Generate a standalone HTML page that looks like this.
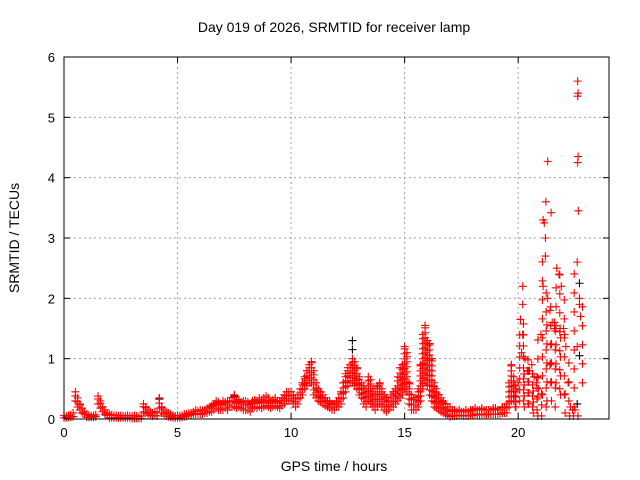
<!DOCTYPE html>
<html><head><meta charset="utf-8"><style>
body{margin:0;background:#fff}
svg{display:block;font-family:"Liberation Sans",sans-serif}
</style></head><body>
<svg id="c" width="640" height="480">
<rect width="640" height="480" fill="#fff"/>
<text x="334" y="32" text-anchor="middle" font-size="14">Day 019 of 2026, SRMTID for receiver lamp</text>
<text x="334" y="471" text-anchor="middle" font-size="14">GPS time / hours</text>
<text transform="translate(19,238) rotate(-90)" text-anchor="middle" font-size="14">SRMTID / TECUs</text>
<g id="grid"></g>
<g id="ticks"></g>
<g id="black"></g>
<g id="red"></g>
<rect x="64" y="57" width="545" height="362" fill="none" stroke="#000" stroke-width="1"/>
</svg>
<script>
const xTicks=[0,5,10,15,20];
const yTicks=[0,1,2,3,4,5,6];
const tStart=0, tStep=0.1;
const hi=[.06,.05,.06,.07,.1, .45,.35,.25,.18,.12, .08,.06,.05,.06,.07, .38,.3,.2,.15,.1,
.08,.07,.06,.06,.05,.06,.05,.05,.06,.05, .05,.06,.05,.04,.05, .25,.2,.15,.12,.1, .12,.1,.35,.2,.15, .12,.1,.08,.06,.05,
.06,.05,.06,.08,.08,.1,.1,.12,.15,.13, .15,.14,.15,.18,.2,.22,.25,.3,.28,.25,
.3,.28,.3,.3,.35,.4,.3,.32,.28,.3, .3,.28,.25,.3,.32,.3,.35,.32,.35,.38,
.35,.3,.32,.35,.3,.3,.35,.4,.45,.45, .45,.4,.35,.4,.5,.6,.7,.8,.9,.95,
.8,.6,.5,.45,.4,.35,.3,.3,.25,.25, .3,.35,.45,.6,.75,.85,.9,1.0,.95,.85,
.7,.6,.55,.5,.7,.65,.5,.45,.55,.6, .5,.4,.35,.3,.4,.45,.5,.7,.85,.9,
1.2,1.1,.6,.4,.35,.35,.5,.9,1.4,1.55, 1.3,1.25,1.0,.6,.5,.4,.35,.3,.25,.2,
.2,.15,.15,.12,.15,.12,.12,.15,.12,.15, .15,.18,.15,.15,.18,.15,.15,.15,.15,.18,
.18,.15,.15,.2,.2,.25,.6,.9,.7,.5, .6,1.65,1.4,1.0,.8,.8,.9,.7,.6,.5,
1.4,2.2,2.7,2.0,1.8,1.6,1.5,2.5,2.4,2.2, 1.5,1.2,.6,.2,.15,.15,2.6,2.0];
const lo=[.02,.02,.03,.03,.04, .3,.2,.15,.1,.08, .03,.03,.03,.03,.04, .25,.18,.12,.08,.06,
.02,.02,.02,.02,.02,.02,.02,.02,.02,.02, .01,.01,.01,.01,.01, .12,.1,.08,.06,.05, .06,.05,.18,.1,.08, .05,.04,.03,.02,.02,
.02,.02,.03,.04,.05,.06,.07,.08,.08,.09, .08,.08,.1,.1,.12,.12,.15,.18,.15,.15,
.15,.18,.15,.2,.2,.2,.18,.2,.18,.15, .15,.15,.12,.18,.2,.18,.2,.18,.2,.22,
.2,.18,.2,.22,.2,.18,.22,.25,.3,.3, .3,.25,.2,.25,.35,.4,.5,.55,.6,.6,
.4,.35,.3,.28,.25,.22,.2,.18,.15,.15, .2,.2,.25,.35,.45,.55,.6,.6,.55,.5,
.4,.35,.25,.2,.3,.25,.2,.15,.2,.25, .2,.15,.12,.15,.2,.2,.25,.3,.35,.4,
.5,.45,.25,.15,.15,.15,.2,.3,.5,.6, .55,.4,.3,.2,.18,.15,.12,.1,.08,.06,
.04,.05,.05,.05,.06,.06,.05,.06,.05,.06, .06,.08,.07,.07,.08,.08,.07,.08,.08,.08,
.08,.08,.08,.1,.1,.1,.2,.3,.3,.2, .2,.3,.3,.25,.2,.2,.25,.15,.1,.05,
.05,.2,.4,.6,.3,.2,.3,.5,.6,.4, .4,.3,.1,.05,.05,.05,.2,.6];
const outT=[22.62,22.62,22.64,22.64,22.62,22.65,21.3,21.22,21.45,21.2,21.15,20.2,20.2,21.1,21.6,21.85,22.05,22.7,22.75,22.6,21.4,20.15];
const outV=[5.6,5.35,5.4,4.35,4.25,3.45,4.27,3.6,3.42,3.0,3.25,2.2,1.9,3.3,1.6,1.5,1.4,1.9,1.7,1.2,0.9,1.1];
const blkT=[12.7,12.7,4.2,7.5,22.7,22.7,22.6];
const blkV=[1.3,1.15,0.33,0.38,2.25,1.05,0.25];
const X0=64,X1=609,Y0=419,Y1=57,XMAX=24,YMAX=6;
const sx=t=>X0+(X1-X0)*t/XMAX, sy=v=>Y0-(Y0-Y1)*v/YMAX;
const NS="http://www.w3.org/2000/svg";
function mk(tag,attrs,parent){const e=document.createElementNS(NS,tag);for(const k in attrs)e.setAttribute(k,attrs[k]);parent.appendChild(e);return e;}
const grid=document.getElementById('grid'),ticks=document.getElementById('ticks');
xTicks.forEach(v=>{const x=sx(v);
 if(v>0){const g=mk('line',{x1:x,x2:x,y1:Y1,y2:Y0,stroke:'#a0a0a0','stroke-dasharray':'2,3'},grid);
 
 }
 mk('line',{x1:x,x2:x,y1:Y0,y2:Y0-6,stroke:'#000'},ticks);mk('line',{x1:x,x2:x,y1:Y1,y2:Y1+6,stroke:'#000'},ticks);
 const t=mk('text',{x:x,y:Y0+18,'text-anchor':'middle','font-size':13},ticks);t.textContent=v;
 
 });
yTicks.forEach(v=>{const y=sy(v);
 if(v>0&&v<YMAX){const g=mk('line',{x1:X0,x2:X1,y1:y,y2:y,stroke:'#a0a0a0','stroke-dasharray':'2,3'},grid);
 
 }
 mk('line',{x1:X0,x2:X0+6,y1:y,y2:y,stroke:'#000'},ticks);mk('line',{x1:X1,x2:X1-6,y1:y,y2:y,stroke:'#000'},ticks);
 const t=mk('text',{x:X0-9,y:y+5,'text-anchor':'end','font-size':13},ticks);t.textContent=v;
 
 });
function cross(parent,x,y,col){const p=mk('path',{d:`M${x-4} ${y}h8M${x} ${y-4}v8`,stroke:col,'stroke-width':1.1,fill:'none'},parent);
 
 }
const black=document.getElementById('black'),red=document.getElementById('red');
blkT.forEach((t,i)=>cross(black,sx(t),sy(blkV[i]),'#000'));
hi.forEach((h,i)=>{const t=tStart+i*tStep,x=sx(t),yh=sy(h),yl=sy(lo[i]);
 const gap=t>=20?(t>=21?19:11):5;
 for(let y=yl;y>yh;y-=gap)cross(red,x+((i%2)?1:-1)*(t>=20?3:0),y,'#f00');cross(red,x,yh,'#f00');});
outT.forEach((t,i)=>cross(red,sx(t),sy(outV[i]),'#f00'));
</script>
</body></html>
